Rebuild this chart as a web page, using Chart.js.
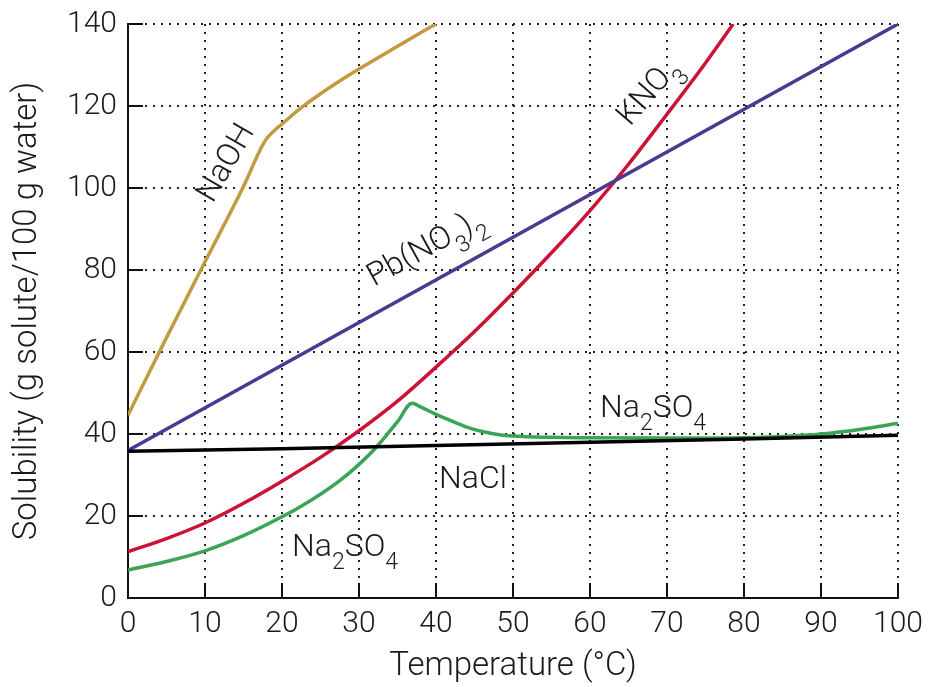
<!DOCTYPE html>
<html>
<head>
<meta charset="utf-8">
<script src="https://cdn.jsdelivr.net/npm/chart.js@4/dist/chart.umd.min.js"></script>
<style>
  html, body { margin: 0; padding: 0; background: #fff; }
  #wrap { width: 928px; height: 687px; }
</style>
</head>
<body>
<div id="wrap"><canvas id="chart" width="928" height="687"></canvas></div>
<script>
// temperature (°C) / solubility (g per 100 g water)
const naohT = [0, 5, 10, 14.9, 17.8, 19, 20, 22.5, 25, 27.5, 30, 35, 40];
const naohS = [44.6, 63.5, 82, 100, 111.5, 114, 115.6, 119.6, 123, 126.1, 129, 134.6, 140];

const pbT = [0, 100];
const pbS = [36, 140];

const kno3T = [0, 5, 10, 15, 20, 25, 30, 35, 40, 45, 50, 55, 60, 65, 70, 75, 78.6];
const kno3S = [11.3, 14.5, 18.3, 23.1, 28.5, 34.3, 40.8, 48, 56.3, 65, 74.4, 84.2, 94.5, 105.8, 118, 130.5, 140];

const na2so4T = [0, 5, 10, 15, 20, 22.5, 25, 27.5, 30, 32.3, 35, 36.9, 38, 40, 42, 44, 46, 48, 50, 55, 60, 70, 80, 85, 90, 95, 100];
const na2so4S = [6.8, 8.9, 11.5, 15.2, 19.8, 22.4, 25.3, 28.6, 32.6, 36.9, 43, 47.5, 46.6, 44.8, 43.2, 41.7, 40.6, 39.9, 39.5, 39.2, 39.1, 39, 39.1, 39.4, 40, 41.1, 42.6];

const naclT = [0, 20, 40, 60, 80, 100];
const naclS = [35.8, 36.4, 37.2, 38, 38.8, 39.7];

const xTicks = [0, 10, 20, 30, 40, 50, 60, 70, 80, 90, 100];
const yTicks = [0, 20, 40, 60, 80, 100, 120, 140];

function pts(xs, ys) {
  return xs.map((x, i) => ({ x: x, y: ys[i] }));
}

const FONT = "Roboto, 'Liberation Sans', sans-serif";

// curve captions, placed in data units
const captions = [
  { parts: [["NaOH", 0]], x: 12.6, y: 106.2, rot: -60, align: "center" },
  { parts: [["Pb(NO", 0], ["3", 1], [")", 0], ["2", 1]], x: 38.6, y: 85.6, rot: -29, align: "center" },
  { parts: [["KNO", 0], ["3", 1]], x: 67.5, y: 123.6, rot: -49, align: "center" },
  { parts: [["Na", 0], ["2", 1], ["SO", 0], ["4", 1]], x: 61.3, y: 44.1, rot: 0, align: "left" },
  { parts: [["NaCl", 0]], x: 40.4, y: 26.8, rot: 0, align: "left" },
  { parts: [["Na", 0], ["2", 1], ["SO", 0], ["4", 1]], x: 21.3, y: 10.2, rot: 0, align: "left" }
];

const captionPlugin = {
  id: "captions",
  afterDatasetsDraw(chart) {
    const ctx = chart.ctx;
    const xs = chart.scales.x, ys = chart.scales.y;
    const big = "300 32px " + FONT, small = "300 23px " + FONT;
    captions.forEach(c => {
      ctx.save();
      ctx.fillStyle = "#1a1a1a";
      let w = 0;
      c.parts.forEach(p => {
        ctx.font = p[1] ? small : big;
        w += ctx.measureText(p[0]).width;
      });
      const px = xs.getPixelForValue(c.x), py = ys.getPixelForValue(c.y);
      ctx.translate(px, py);
      ctx.rotate(c.rot * Math.PI / 180);
      let cx = c.align === "center" ? -w / 2 : 0;
      const by = c.align === "center" ? 10 : 0;
      ctx.textBaseline = "alphabetic";
      c.parts.forEach(p => {
        ctx.font = p[1] ? small : big;
        ctx.fillText(p[0], cx, by + (p[1] ? 13 : 0));
        cx += ctx.measureText(p[0]).width;
      });
      ctx.restore();
    });
  }
};

const line = (data, color, mode) => ({
  data: data,
  borderColor: color,
  borderWidth: 3.5,
  pointRadius: 0,
  fill: false,
  tension: 0,
  cubicInterpolationMode: mode || "default"
});

function noPad(s) {
  s.paddingTop = 0;
  s.paddingBottom = 0;
  s.paddingLeft = 0;
  s.paddingRight = 0;
}

new Chart(document.getElementById("chart"), {
  type: "line",
  data: {
    datasets: [
      line(pts(naclT, naclS), "#000000"),
      line(pts(pbT, pbS), "#4b3a8e"),
      line(pts(naohT, naohS), "#c39a42", "monotone"),
      line(pts(kno3T, kno3S), "#cc1236", "monotone"),
      line(pts(na2so4T, na2so4S), "#3aa556", "monotone")
    ]
  },
  options: {
    responsive: false,
    animation: false,
    layout: { padding: { top: 24, right: 30, left: 0, bottom: 0 } },
    plugins: { legend: { display: false }, tooltip: { enabled: false } },
    scales: {
      x: {
        type: "linear",
        min: 0,
        max: 100,
        afterFit(s) { s.height = 89; noPad(s); },
        afterBuildTicks(s) { s.ticks = xTicks.map(v => ({ value: v })); },
        ticks: { color: "#1a1a1a", font: { family: FONT, size: 30, weight: 300 }, padding: 23, maxRotation: 0 },
        grid: { color: "#222", lineWidth: 2, tickLength: -15, tickColor: "#111", tickWidth: 2 },
        border: { display: true, color: "#111", width: 2, dash: [2, 6] },
        title: { display: true, text: "Temperature (°C)", color: "#1a1a1a", font: { family: FONT, size: 33, weight: 300 }, padding: { top: 0, bottom: 0 } }
      },
      y: {
        min: 0,
        max: 140,
        afterFit(s) { s.width = 128; noPad(s); },
        afterBuildTicks(s) { s.ticks = yTicks.map(v => ({ value: v })); },
        ticks: { color: "#1a1a1a", font: { family: FONT, size: 30, weight: 300 }, padding: 26 },
        grid: { color: "#222", lineWidth: 2, tickLength: -15, tickColor: "#111", tickWidth: 2 },
        border: { display: true, color: "#111", width: 2, dash: [2, 6] },
        title: { display: true, text: "Solubility (g solute/100 g water)", color: "#1a1a1a", font: { family: FONT, size: 33, weight: 300 }, padding: { top: 8, bottom: 0 } }
      }
    }
  },
  plugins: [captionPlugin]
});
</script>
</body>
</html>
